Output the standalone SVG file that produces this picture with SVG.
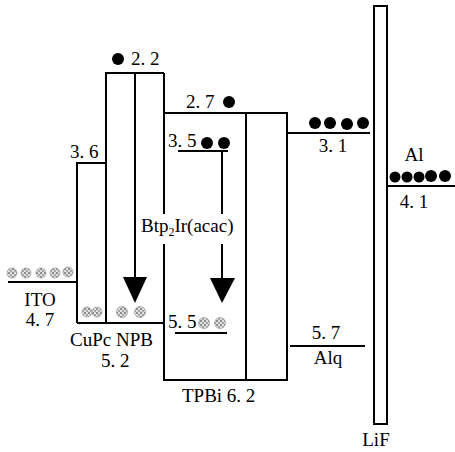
<svg xmlns="http://www.w3.org/2000/svg" width="455" height="452" viewBox="0 0 455 452">
<style>
  .ln{stroke:#000;stroke-width:2;fill:none}
  .t{font-family:"Liberation Serif","Times New Roman",serif;font-size:19px;fill:#000}
  .m{text-anchor:middle}
  .bd{fill:#000}
  .gd{fill:url(#stip);stroke:#999;stroke-width:0.7}
</style>
<defs>
  <pattern id="stip" width="4" height="4" patternUnits="userSpaceOnUse">
    <rect width="4" height="4" fill="#e0e0e0"/>
    <circle cx="1" cy="1" r="0.9" fill="#666"/>
    <circle cx="3" cy="3" r="0.9" fill="#888"/>
  </pattern>
</defs>
<rect width="455" height="452" fill="#fff"/>
<g id="connectors">
  <line class="ln" x1="135" y1="73" x2="135" y2="282"/>
  <polygon points="123,277 147,277 135,303" fill="#000"/>
  <line class="ln" x1="222" y1="151" x2="222" y2="282"/>
  <polygon points="210,278 235,278 222,303" fill="#000"/>
</g>
<g id="ITO">
  <line class="ln" x1="8" y1="282" x2="77" y2="282"/>
  <circle class="gd" cx="12" cy="273" r="5"/>
  <circle class="gd" cx="26" cy="273" r="5"/>
  <circle class="gd" cx="41" cy="273" r="5"/>
  <circle class="gd" cx="55" cy="273" r="5"/>
  <circle class="gd" cx="68" cy="272" r="5"/>
  <text class="t m" x="40" y="306">ITO</text>
  <text class="t m" x="40" y="326">4. 7</text>
</g>
<g id="CuPc">
  <path class="ln" d="M77,323 V163 H106"/>
  <circle class="gd" cx="87" cy="312" r="5"/>
  <circle class="gd" cx="97" cy="312" r="5"/>
  <text class="t" x="70" y="158">3. 6</text>
</g>
<g id="NPB">
  <path class="ln" d="M106,323 V73 H164"/>
  <line class="ln" x1="77" y1="323" x2="164" y2="323"/>
  <circle class="bd" cx="118" cy="59" r="6"/>
  <text class="t" x="131" y="65">2. 2</text>
  <circle class="gd" cx="122" cy="312" r="5.5"/>
  <circle class="gd" cx="140" cy="312" r="5.5"/>
  <text class="t" x="70" y="346">CuPc NPB</text>
  <text class="t" x="101" y="367">5. 2</text>
</g>
<g id="TPBi">
  <path class="ln" d="M164,73 V380 H287 V113 H164"/>
  <line class="ln" x1="246" y1="113" x2="246" y2="380"/>
  <text class="t" x="186" y="108">2. 7</text>
  <circle class="bd" cx="229" cy="102" r="6"/>
  <text class="t" x="182" y="402">TPBi 6. 2</text>
</g>
<g id="Btp2Ir">
  <line class="ln" x1="178" y1="151" x2="228" y2="151"/>
  <text class="t" x="168" y="147">3. 5</text>
  <circle class="bd" cx="207" cy="143" r="6"/>
  <circle class="bd" cx="224" cy="143" r="6"/>
  <rect x="140" y="214" width="101" height="30" fill="#fff"/>
  <text class="t" x="141" y="232">Btp<tspan font-size="12" dy="4">2</tspan><tspan dy="-4">Ir(acac)</tspan></text>
  <line class="ln" x1="175" y1="333" x2="227" y2="333"/>
  <text class="t" x="168" y="328">5. 5</text>
  <circle class="gd" cx="204" cy="323" r="5.5"/>
  <circle class="gd" cx="220" cy="323" r="5.5"/>
</g>
<g id="Alq">
  <line class="ln" x1="288" y1="133" x2="370" y2="133"/>
  <circle class="bd" cx="315" cy="123" r="6"/>
  <circle class="bd" cx="330" cy="123" r="6"/>
  <circle class="bd" cx="347" cy="124" r="6"/>
  <circle class="bd" cx="363" cy="123" r="6"/>
  <text class="t m" x="333" y="152">3. 1</text>
  <line class="ln" x1="290" y1="346" x2="365" y2="346"/>
  <text class="t m" x="326" y="339">5. 7</text>
  <text class="t m" x="328" y="364">Alq</text>
</g>
<g id="LiF">
  <rect class="ln" x="374" y="6" width="13" height="418"/>
  <text class="t m" x="376" y="446">LiF</text>
</g>
<g id="Al">
  <line class="ln" x1="387" y1="186" x2="455" y2="186"/>
  <circle class="bd" cx="395" cy="177" r="5.5"/>
  <circle class="bd" cx="407" cy="177" r="5.5"/>
  <circle class="bd" cx="419" cy="177" r="5.5"/>
  <circle class="bd" cx="431" cy="176" r="6"/>
  <circle class="bd" cx="445" cy="176" r="6"/>
  <text class="t m" x="414" y="161">Al</text>
  <text class="t m" x="414" y="208">4. 1</text>
</g>
</svg>
